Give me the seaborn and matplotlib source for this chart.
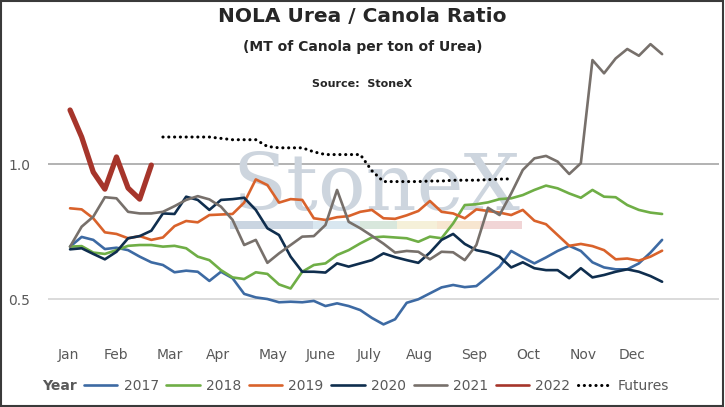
import numpy as np
import pandas as pd
import matplotlib
matplotlib.use("Agg")
import matplotlib.pyplot as plt
from matplotlib.patches import Rectangle
from matplotlib.lines import Line2D
import seaborn as sns

# weekly ratio values (week 1..52)
y2017 = [0.694, 0.73, 0.719, 0.685, 0.69, 0.681, 0.657, 0.636, 0.626, 0.599,
         0.605, 0.601, 0.567, 0.601, 0.577, 0.519, 0.506, 0.50, 0.488, 0.49,
         0.488, 0.493, 0.474, 0.484, 0.474, 0.459, 0.43, 0.406, 0.425, 0.486,
         0.499, 0.521, 0.543, 0.552, 0.544, 0.548, 0.583, 0.62, 0.678, 0.654,
         0.632, 0.654, 0.678, 0.697, 0.678, 0.636, 0.617, 0.61, 0.61, 0.632,
         0.672, 0.719]
y2018 = [0.694, 0.696, 0.672, 0.667, 0.681, 0.697, 0.70, 0.70, 0.694, 0.697,
         0.688, 0.657, 0.644, 0.607, 0.58, 0.574, 0.599, 0.593, 0.554, 0.539,
         0.601, 0.626, 0.632, 0.663, 0.681, 0.706, 0.728, 0.731, 0.728, 0.725,
         0.712, 0.731, 0.725, 0.78, 0.848, 0.851, 0.858, 0.87, 0.873, 0.885,
         0.904, 0.92, 0.91, 0.891, 0.875, 0.904, 0.879, 0.877, 0.848, 0.83,
         0.82, 0.815]
y2019 = [0.836, 0.832, 0.799, 0.747, 0.741, 0.725, 0.733, 0.719, 0.728, 0.77,
         0.789, 0.784, 0.811, 0.813, 0.815, 0.857, 0.943, 0.922, 0.857, 0.87,
         0.867, 0.799, 0.793, 0.803, 0.807, 0.823, 0.83, 0.799, 0.797, 0.81,
         0.826, 0.863, 0.823, 0.817, 0.799, 0.832, 0.826, 0.82, 0.811, 0.83,
         0.79, 0.777, 0.737, 0.697, 0.704, 0.696, 0.681, 0.647, 0.65, 0.642,
         0.657, 0.679]
y2020 = [0.684, 0.688, 0.667, 0.647, 0.675, 0.725, 0.733, 0.753, 0.817, 0.815,
         0.879, 0.867, 0.83, 0.867, 0.87, 0.875, 0.83, 0.762, 0.737, 0.657,
         0.601, 0.601, 0.598, 0.632, 0.62, 0.632, 0.644, 0.669, 0.655, 0.644,
         0.634, 0.672, 0.719, 0.741, 0.704, 0.681, 0.672, 0.657, 0.617, 0.636,
         0.614, 0.607, 0.607, 0.577, 0.614, 0.58, 0.589, 0.601, 0.61, 0.601,
         0.585, 0.564]
y2021 = [0.694, 0.768, 0.805, 0.877, 0.873, 0.823, 0.817, 0.817, 0.823, 0.844,
         0.867, 0.881, 0.869, 0.842, 0.793, 0.70, 0.719, 0.634, 0.669, 0.70,
         0.731, 0.733, 0.774, 0.904, 0.786, 0.762, 0.734, 0.705, 0.672, 0.678,
         0.675, 0.647, 0.675, 0.673, 0.644, 0.70, 0.838, 0.811, 0.891, 0.978,
         1.021, 1.03, 1.009, 0.963, 1.003, 1.385, 1.336, 1.391, 1.426, 1.401,
         1.444, 1.407]
y2022 = [1.20, 1.10, 0.97, 0.907, 1.026, 0.911, 0.87, 0.996]

# futures start at week 9
futures_start = 9
futures = [1.10, 1.10, 1.10, 1.10, 1.10, 1.095, 1.09, 1.09, 1.09, 1.065,
           1.06, 1.06, 1.06, 1.045, 1.035, 1.035, 1.035, 1.035, 0.975, 0.935,
           0.935, 0.935, 0.935, 0.937, 0.937, 0.94, 0.94, 0.94, 0.942, 0.944,
           0.945]

months = ["Jan", "Feb", "Mar", "Apr", "May", "June", "July", "Aug", "Sep", "Oct", "Nov", "Dec"]
month_ticks = [0.83, 4.93, 9.6, 13.76, 18.5, 22.6, 26.8, 31.1, 35.8, 40.5, 45.2, 49.4]

years = ["2017", "2018", "2019", "2020", "2021", "2022"]
series = [y2017, y2018, y2019, y2020, y2021, y2022]
colors = {"2017": "#3d6aa3", "2018": "#6fae46", "2019": "#d9622b",
          "2020": "#0f2e4e", "2021": "#77706b", "2022": "#a6352b"}
widths = {"2017": 1.9, "2018": 1.9, "2019": 1.9, "2020": 1.9, "2021": 1.9, "2022": 3.8}

rows = []
for yr, vals in zip(years, series):
    for i, v in enumerate(vals):
        rows.append({"week": i + 1, "ratio": v, "year": yr})
df = pd.DataFrame(rows)
fut = pd.DataFrame({"week": np.arange(futures_start, futures_start + len(futures)),
                    "ratio": futures})

sns.set_theme(style="white")
plt.rcParams["font.family"] = ["DejaVu Sans"]
grey = "#595959"

fig = plt.figure(figsize=(7.25, 4.07), dpi=100)
ax = fig.add_axes([0.0662, 0.1658, 0.9255, 0.7629])

sns.lineplot(data=df, x="week", y="ratio", hue="year", size="year",
             palette=colors, sizes=widths, hue_order=years, size_order=years,
             legend=False, ax=ax, zorder=3)
sns.lineplot(data=fut, x="week", y="ratio", color="black", lw=2.2, ax=ax, zorder=3)
fl = ax.lines[-1]
fl.set_dashes((0.05, 1.85))
fl.set_dash_capstyle("round")
for ln in ax.lines[:-1]:
    ln.set_solid_joinstyle("round")
    ln.set_solid_capstyle("round")

ax.set_xlim(-0.9, 56.9)
ax.set_ylim(0.35, 1.5)
ax.set_yticks([0.5, 1.0])
ax.set_yticklabels(["0.5", "1.0"])
ax.set_xticks(month_ticks)
ax.set_xticklabels(months)
ax.tick_params(axis="both", length=0, colors=grey, labelsize=10)
ax.tick_params(axis="y", pad=13)
ax.tick_params(axis="x", pad=6)
ax.set_xlabel("")
ax.set_ylabel("")
for s in ax.spines.values():
    s.set_visible(False)
ax.yaxis.grid(True, color="#d4d4d4", lw=1.2)
ax.set_axisbelow(True)
gl = ax.get_ygridlines()
gl[1].set_color("#a6a6a6")

# watermark
ax.text(0.5186, 0.484, "StoneX", transform=fig.transFigure, ha="center", va="baseline",
        fontsize=57, family="DejaVu Serif", color="#cdd5de", zorder=1)
bar_cols = ["#cad5e1", "#d9e7f0", "#d8e7dc", "#f5f0d9", "#f7e6d0", "#f1d5d6"]
bar_x = [230, 313, 360, 397, 437, 480, 522]
for c, x0, x1 in zip(bar_cols, bar_x[:-1], bar_x[1:]):
    ax.add_patch(Rectangle((x0 / 725, 1 - 229 / 407), (x1 - x0) / 725, 8 / 407,
                           transform=fig.transFigure, color=c, zorder=1, lw=0))

fig.text(0.5, 1 - 16 / 407, "NOLA Urea / Canola Ratio", ha="center", va="center",
         fontsize=14.5, fontweight="bold", color="#262626")
fig.text(0.5, 1 - 47 / 407, "(MT of Canola per ton of Urea)", ha="center", va="center",
         fontsize=10, fontweight="bold", color="#262626")
fig.text(0.5, 1 - 84 / 407, "Source:  StoneX", ha="center", va="center",
         fontsize=8, fontweight="bold", color="#262626")

# legend
handles = [Line2D([], [], color=colors[y], lw=1.9) for y in years]
fh = Line2D([], [], color="black", lw=2.2)
fh.set_dashes((0.05, 1.85))
fh.set_dash_capstyle("round")
handles.append(fh)
fig.text(42 / 725, 1 - 386 / 407, "Year", ha="left", va="center",
         fontsize=10, fontweight="bold", color=grey)
leg = fig.legend(handles, years + ["Futures"], loc="center left",
                 bbox_to_anchor=(84 / 725, 1 - 386 / 407), ncol=7, frameon=False,
                 fontsize=10, handlelength=2.4, handletextpad=0.45, columnspacing=0.55,
                 borderaxespad=0, borderpad=0)
for t in leg.get_texts():
    t.set_color(grey)

fig.patches.append(Rectangle((0.001, 0.002), 0.996, 0.996, transform=fig.transFigure,
                             fill=False, edgecolor="#3a3a3a", lw=1.5))

fig.savefig("out.png", dpi=100)
